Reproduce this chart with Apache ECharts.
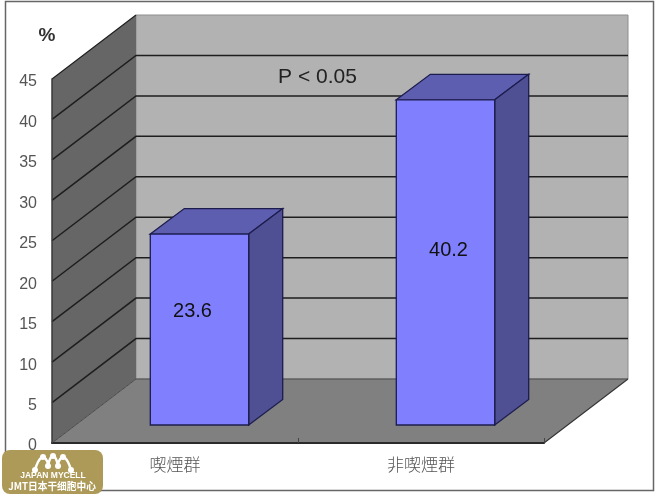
<!DOCTYPE html>
<html><head><meta charset="utf-8">
<style>html,body{margin:0;padding:0;background:#fff}#c{width:660px;height:494px;filter:blur(0.4px)}</style>
<script src="https://cdn.jsdelivr.net/npm/echarts@6/dist/echarts.min.js"></script>
</head><body><div id="c"></div>
<script>
const categories = ['喫煙群', '非喫煙群'];
const barValues = [23.6, 40.2];
const valueTicks = [0, 5, 10, 15, 20, 25, 30, 35, 40, 45];
const annotation = 'P < 0.05';
const unitLabel = '%';
const logoLine1 = 'JAPAN MYCELL';
const logoLine2 = 'JMT日本干细胞中心';

const WALL = { dx: 84, dy: -64 };
const BAR_FRONT = { dx: 24.5, dy: -18 };
const BAR_DEPTH = { dx: 34, dy: -25.5 };
const LABEL_SHIFT = [[-7, -18], [3, -12]];
const C = { back: '#B2B2B2', side: '#666666', floor: '#808080', front: '#8080FF', top: '#5E5EB0', right: '#4F4F94', edge: '#1C1C4E', grid: '#1E1E1E', text: '#555555', logo: '#AD9A58' };
const FONT = '"Liberation Sans", Arial, sans-serif';

const chart = echarts.init(document.getElementById('c'), null, { renderer: 'canvas' });

function poly(points, fill, stroke, w) {
  return { type: 'polygon', shape: { points }, style: { fill, stroke: stroke || null, lineWidth: w || 0 } };
}
function wallItem(params, api) {
  const g = params.coordSys, x0 = g.x, x1 = g.x + g.width, yT = g.y, yB = g.y + g.height;
  const d = WALL;
  return { type: 'group', children: [
    poly([[x0 + d.dx, yT + d.dy], [x1 + d.dx, yT + d.dy], [x1 + d.dx, yB + d.dy], [x0 + d.dx, yB + d.dy]], C.back, '#8E8E8E', 1),
    poly([[x0, yT], [x0 + d.dx, yT + d.dy], [x0 + d.dx, yB + d.dy], [x0, yB]], C.side),
    poly([[x0, yB], [x0 + d.dx, yB + d.dy], [x1 + d.dx, yB + d.dy], [x1, yB]], C.floor),
    { type: 'line', shape: { x1: x1, y1: yB, x2: x1 + d.dx, y2: yB + d.dy }, style: { stroke: '#333', lineWidth: 1.2 } }
  ]};
}
function gridItem(params, api) {
  const v = api.value(0), y = api.coord([0, v])[1], g = params.coordSys, d = WALL, x = g.x;
  const pts = v === 45 ? [[x, y], [x + d.dx, y + d.dy]]
    : [[x, y], [x + d.dx, y + d.dy], [x + g.width + d.dx, y + d.dy]];
  return { type: 'polyline', shape: { points: pts }, style: { fill: null, stroke: v === 0 ? '#4A4A4A' : C.grid, lineWidth: v === 0 ? 1 : (v === 45 ? 1.2 : 1.5) } };
}
function barItem(params, api) {
  const cat = api.value(0), val = api.value(1), band = api.size([1, 0])[0], w = band * 0.4;
  const t = api.coord([cat, val]), b = api.coord([cat, 0]);
  const f = BAR_FRONT, e = BAR_DEPTH;
  const l = t[0] - w / 2 + f.dx, r = l + w, top = t[1] + f.dy, bot = b[1] + f.dy;
  const s = LABEL_SHIFT[params.dataIndex];
  return { type: 'group', children: [
    poly([[l, top], [l + e.dx, top + e.dy], [r + e.dx, top + e.dy], [r, top]], C.top, C.edge, 1.3),
    poly([[r, top], [r + e.dx, top + e.dy], [r + e.dx, bot + e.dy], [r, bot]], C.right, C.edge, 1.3),
    poly([[l, top], [r, top], [r, bot], [l, bot]], C.front, C.edge, 1.3),
    { type: 'text', x: (l + r) / 2 + s[0], y: (top + bot) / 2 + s[1],
      style: { text: String(val), fill: '#111', font: '20px ' + FONT, align: 'center', verticalAlign: 'middle' } }
  ]};
}

const arches = [
  [[35, 471], [38, 462], [43, 457], [47, 461], [48, 466]],
  [[48, 466], [50, 459], [53, 456], [56, 459], [58, 466]],
  [[58, 466], [59, 461], [63, 457], [68, 462], [71, 471]]
];
const nodes = [[35, 470], [43, 457], [53, 456], [63, 457], [71, 470], [48, 466], [58, 466]];

chart.setOption({
  animation: false,
  grid: { left: 52, top: 79, width: 492, height: 364, containLabel: false },
  xAxis: { type: 'category', data: categories, z: 10,
    axisLine: { lineStyle: { color: '#2A2A2A', width: 2 } },
    axisTick: { show: true, inside: true, length: 5, lineStyle: { color: '#444', width: 1 } },
    axisLabel: { color: C.text, fontSize: 17, margin: 13, fontFamily: '"Noto Sans CJK JP", sans-serif', fontWeight: 300 },
    splitLine: { show: false } },
  yAxis: { type: 'value', min: 0, max: 45, interval: 5, z: 10,
    axisLine: { show: true, lineStyle: { color: '#3A3A3A', width: 1.5 } },
    axisTick: { show: false },
    axisLabel: { color: C.text, fontSize: 16, margin: 15, verticalAlign: 'top', lineHeight: 6, fontFamily: FONT },
    splitLine: { show: false } },
  series: [
    { type: 'custom', z: 1, silent: true, renderItem: wallItem, data: [[0]], encode: { x: [], y: [] } },
    { type: 'custom', z: 2, silent: true, renderItem: gridItem, data: valueTicks.map(v => [v]), encode: { y: 0 } },
    { type: 'custom', z: 3, silent: true, renderItem: barItem, data: barValues.map((v, i) => [i, v]), encode: { x: 0, y: 1 } }
  ],
  graphic: [
    { type: 'rect', z: 0, shape: { x: 5.5, y: 1.5, width: 648, height: 489 }, style: { fill: null, stroke: '#666', lineWidth: 1.5 } },
    { type: 'text', z: 20, x: 317.5, y: 77, style: { text: annotation, fill: '#222', font: '21px ' + FONT, align: 'center', verticalAlign: 'middle' } },
    { type: 'text', z: 20, x: 47, y: 36, style: { text: unitLabel, fill: '#333', font: 'bold 19px ' + FONT, align: 'center', verticalAlign: 'middle' } },
    { type: 'rect', z: 30, shape: { x: 2, y: 450, width: 101, height: 44, r: 8 }, style: { fill: C.logo } },
    ...arches.map(a => ({ type: 'polyline', z: 31, shape: { points: a, smooth: 0.4 }, style: { fill: null, stroke: '#fff', lineWidth: 2.5 } })),
    ...nodes.map(n => ({ type: 'circle', z: 31, shape: { cx: n[0], cy: n[1], r: 3 }, style: { fill: '#fff' } })),
    { type: 'text', z: 31, x: 53, y: 475.5, style: { text: logoLine1, fill: '#fff', font: 'bold 8.5px ' + FONT, align: 'center', verticalAlign: 'middle' } },
    { type: 'text', z: 31, x: 52, y: 486.5, style: { text: logoLine2, fill: '#fff', font: 'bold 9.7px "Noto Sans CJK SC", sans-serif', align: 'center', verticalAlign: 'middle' } }
  ]
});
</script></body></html>
